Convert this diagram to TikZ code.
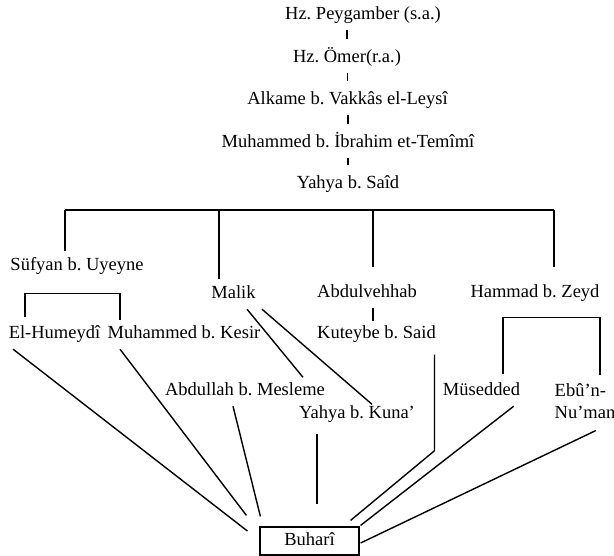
\documentclass[tikz,border=0pt]{standalone}
\usepackage{fontspec}
\setmainfont{Liberation Serif}
\frenchspacing

\begin{document}
\begin{tikzpicture}[x=1pt,y=-1pt,line width=1.4pt,
  ravi/.style={inner sep=0pt,anchor=base,text height=23pt,text depth=9.5pt,font=\fontsize{18.5}{22}\selectfont}]

\useasboundingbox (0,0) rectangle (614,556);

% Senet zinciri
\node[ravi] (peygamber) at (363,20) {Hz. Peygamber (s.a.)};
\node[ravi] (omer) at (347,63) {Hz. Ömer(r.a.)};
\node[ravi] (alkame) at (347.5,105) {Alkame b. Vakkâs el-Leysî};
\node[ravi] (ibrahim) at (348,148) {Muhammed b. İbrahim et-Temîmî};
\node[ravi] (yahyasaid) at (348,189) {Yahya b. Saîd};

\draw (omer.north) -- (omer.north |- peygamber.south);
\draw (alkame.north) -- (alkame.north |- omer.south);
\draw (ibrahim.north) -- (ibrahim.north |- alkame.south);
\draw (yahyasaid.north) -- (yahyasaid.north |- ibrahim.south);

% Yahya b. Saîd'in talebeleri
\node[ravi] (sufyan) at (77,271) {Süfyan b. Uyeyne};
\node[ravi] (malik) at (233.5,299) {Malik};
\node[ravi] (abdulvehhab) at (367,298) {Abdulvehhab};
\node[ravi] (hammad) at (535,298) {Hammad b. Zeyd};

\coordinate (barL) at (65,210);
\coordinate (barR) at (554,210);
\draw (barL) -- (barR);
\draw (barL) -- ([xshift=-12pt,yshift=-4pt]sufyan.north);
\draw ([xshift=-14.5pt,yshift=-4pt]malik.north) |- (barL);
\draw ([xshift=6pt,yshift=7pt]abdulvehhab.north) |- (barL);
\draw ([xshift=19pt,yshift=7pt]hammad.north) |- (barR);

% Ara ravîler
\node[ravi] (humeydi) at (54.5,339) {El-Humeydî};
\node[ravi] (kesir) at (184,339) {Muhammed b. Kesir};
\node[ravi] (kuteybe) at (376.5,339) {Kuteybe b. Said};
\node[ravi] (mesleme) at (245,396) {Abdullah b. Mesleme};
\node[ravi] (kuna) at (357,419) {Yahya b. Kuna’};
\node[ravi] (musedded) at (481.5,396) {Müsedded};
\node[inner sep=0pt,anchor=north west,align=left,font=\fontsize{18.5}{22}\selectfont] (ebunuman) at (554,383) {Ebû’n-\\Nu’man};

\draw ([xshift=17pt,yshift=-2pt]humeydi.north west) -- ++(0,-24) -| ([xshift=13pt,yshift=-5pt]kesir.north west);
\draw ([xshift=6pt]abdulvehhab.south) -- ([xshift=-3.5pt,yshift=-6pt]kuteybe.north);
\draw ([xshift=13.5pt]malik.south) -- ([xshift=58pt,yshift=-5pt]mesleme.north);
\draw ([xshift=28.5pt]malik.south) -- ([xshift=15pt,yshift=-9pt]kuna.north);
\draw ([xshift=21.5pt,yshift=-2pt]musedded.north) -- ++(0,-57) -| ([xshift=46pt,yshift=8pt]ebunuman.north west);

% Buharî
\node[draw,line width=1.2pt,inner sep=0pt,minimum width=99pt,minimum height=28pt,text height=13pt,text depth=4pt,font=\fontsize{18.5}{22}\selectfont] (buhari) at (309.5,541) {Buharî};

\draw ([xshift=5pt]humeydi.south west) -- ([xshift=-12pt,yshift=10pt]buhari.west);
\draw ([xshift=13pt]kesir.south west) -- ([xshift=-13pt,yshift=11pt]buhari.north west);
\draw ([xshift=-12pt]mesleme.south) -- ([xshift=1pt,yshift=10pt]buhari.north west);
\draw ([xshift=-40pt,yshift=-4.5pt]kuna.south) -- ([xshift=7.5pt,yshift=22pt]buhari.north);
\draw ([xshift=-2pt,yshift=-5.5pt]kuteybe.south east) -- ++(0,96) -- ([xshift=-9pt,yshift=6pt]buhari.north east);
\draw ([xshift=-7pt]musedded.south east) -- ([xshift=1pt,yshift=1pt]buhari.north east);
\draw ([xshift=42pt,yshift=-11pt]ebunuman.south west) -- ([xshift=1pt,yshift=-2pt]buhari.east);

\end{tikzpicture}
\end{document}
